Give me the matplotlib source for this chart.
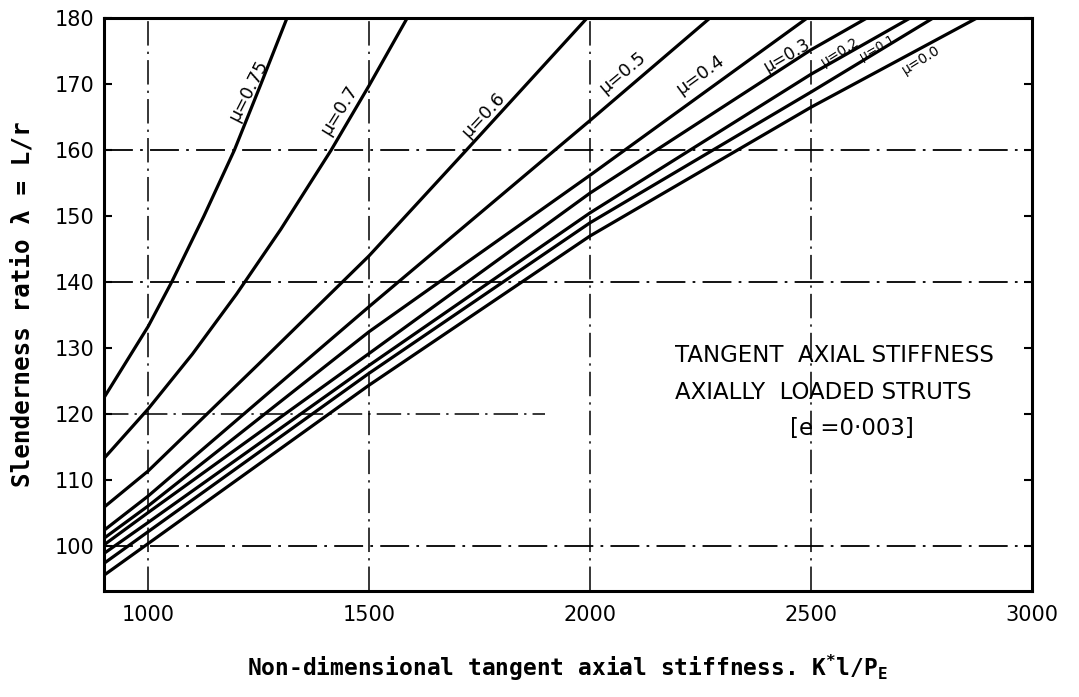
import matplotlib
matplotlib.use("Agg")
import matplotlib.pyplot as plt

plt.rcParams["mathtext.default"] = "regular"

# curves: stiffness K*l/PE vs slenderness ratio
mu_labels = ["μ=0.75", "μ=0.7", "μ=0.6", "μ=0.5", "μ=0.4", "μ=0.3", "μ=0.2", "μ=0.1", "μ=0.0"]

x_075 = [900, 1000, 1053, 1126, 1195, 1255, 1314]
l_075 = [122.5, 133.3, 140, 150, 160, 170, 180]
x_07 = [900, 1000, 1100, 1200, 1300, 1414, 1500, 1586]
l_07 = [113.3, 120.8, 129.1, 138.2, 148, 160, 169.8, 180]
x_06 = [900, 1000, 1250, 1500, 1720, 1993]
l_06 = [105.9, 111.4, 127.6, 144, 160, 180]
x_05 = [900, 1000, 1500, 2000, 2271]
l_05 = [102.4, 107.6, 136.3, 164.5, 180]
x_04 = [900, 1000, 1500, 2000, 2491]
l_04 = [101.2, 106.1, 132.5, 156.2, 180]
x_03 = [900, 1000, 1500, 2000, 2500, 2626]
l_03 = [100.2, 105.1, 129.2, 153.5, 175.2, 180]
x_02 = [900, 1000, 1500, 2000, 2500, 2724]
l_02 = [98.9, 103.6, 127.4, 150.5, 171.5, 180]
x_01 = [900, 1000, 1500, 2000, 2500, 2776]
l_01 = [97.4, 102.2, 126.2, 149, 168.8, 180]
x_00 = [900, 1000, 1500, 2000, 2500, 2875]
l_00 = [95.6, 100.4, 124.4, 147, 166.5, 180]

curves = [(x_075, l_075), (x_07, l_07), (x_06, l_06), (x_05, l_05), (x_04, l_04),
          (x_03, l_03), (x_02, l_02), (x_01, l_01), (x_00, l_00)]

# label anchor (x, lambda, angle)
label_pos = [(1228, 169.1, 63), (1432, 166.1, 58), (1758, 165.3, 47), (2074, 171.7, 40),
             (2250, 171.4, 36), (2445, 174.3, 30), (2565, 174.9, 32), (2650, 175.5, 30),
             (2750, 173.6, 32)]
label_size = [13, 13, 13, 13, 13, 12, 10, 9, 10]

x_ticks = [1000, 1500, 2000, 2500, 3000]
y_ticks = [100, 110, 120, 130, 140, 150, 160, 170, 180]
grid_x = [1000, 1500, 2000, 2500]
grid_y = [100, 140, 160]

fig = plt.figure(figsize=(10.79, 6.97), dpi=100)
ax = fig.add_axes([0.0964, 0.152, 0.86, 0.822])

dash = (16, 4, 1.5, 4)
for gx in grid_x:
    ax.axvline(gx, color="black", lw=1.1, dashes=dash, zorder=1)
for gy in grid_y:
    ax.axhline(gy, color="black", lw=1.3, dashes=dash, zorder=1)
ax.hlines(120, 900, 1898, color="black", lw=1.1, linestyles=[(0, dash)], zorder=1)

for (xs, ls) in curves:
    ax.plot(xs, ls, color="black", lw=2.3, solid_joinstyle="round", solid_capstyle="round", zorder=3)

for lab, (lx, ly, rot), size in zip(mu_labels, label_pos, label_size):
    ax.text(lx, ly, lab, rotation=rot, ha="center", va="center", fontsize=size,
            family="DejaVu Sans", zorder=4)

ax.text(2554, 128.9, "TANGENT  AXIAL STIFFNESS", ha="center", va="center", fontsize=16.5)
ax.text(2527, 123.3, "AXIALLY  LOADED STRUTS", ha="center", va="center", fontsize=16.5)
ax.text(2592, 117.9, "[e =0·003]", ha="center", va="center", fontsize=16.5)

ax.set_xlim(900, 3000)
ax.set_ylim(93.2, 180)
ax.set_xticks(x_ticks)
ax.set_yticks(y_ticks)
ax.tick_params(axis="x", length=0, pad=10, labelsize=15)
ax.tick_params(axis="y", direction="in", length=6, width=1.5, pad=7, labelsize=15, right=True)
for s in ax.spines.values():
    s.set_linewidth(2.2)

ax.set_ylabel("Slenderness ratio λ = L/r", family="DejaVu Sans Mono", fontsize=17.5,
              fontweight="bold", labelpad=14)
ax.set_xlabel(r"Non-dimensional tangent axial stiffness. K$^{*}$l/P$_{E}$",
              family="DejaVu Sans Mono", fontsize=16.5, fontweight="bold", labelpad=20)

fig.savefig("out.png", dpi=100)
